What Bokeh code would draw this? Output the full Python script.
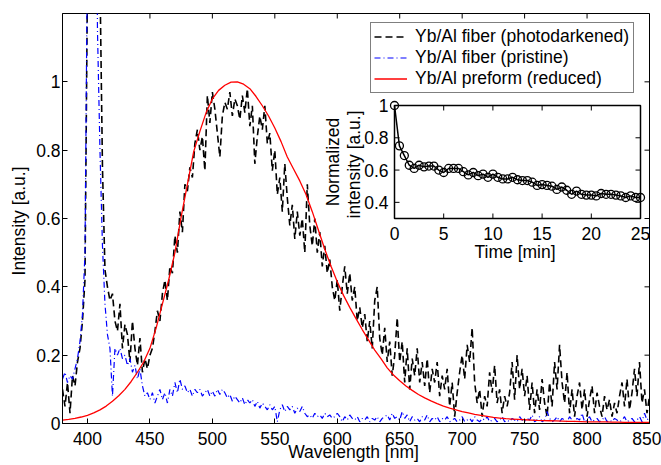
import numpy as np
from bokeh.plotting import figure
from bokeh.models import Range1d, FixedTicker, Legend, LegendItem
from bokeh.embed import file_html
from bokeh.resources import INLINE
from bokeh.core.properties import value

# ---------------- data ----------------
wavelength = np.arange(380, 851, 2)          # nm, 2 nm sampling
photodarkened = [
    0.10, 0.05, 0.12, 0.03, 0.14, 0.11, 0.18, 0.22, 0.30, 0.42,   # 380
    1.30, 2.50, 3.00, 2.80, 2.00, 1.30, 0.75, 0.45, 0.40, 0.36,   # 400
    0.38, 0.30, 0.27, 0.35, 0.22, 0.29, 0.26, 0.18, 0.30, 0.22,   # 420
    0.17, 0.25, 0.15, 0.19, 0.16, 0.20, 0.22, 0.27, 0.33, 0.30,   # 440
    0.38, 0.42, 0.36, 0.46, 0.44, 0.55, 0.50, 0.62, 0.56, 0.70,   # 460
    0.68, 0.75, 0.72, 0.82, 0.86, 0.80, 0.84, 0.74, 0.96, 0.88,   # 480
    0.97, 0.92, 0.85, 0.78, 0.90, 0.94, 0.92, 0.97, 0.90, 0.95,   # 500
    0.93, 0.89, 0.96, 0.91, 0.98, 0.87, 0.93, 0.76, 0.84, 0.90,   # 520
    0.86, 0.93, 0.82, 0.85, 0.74, 0.80, 0.67, 0.72, 0.62, 0.76,   # 540
    0.66, 0.58, 0.64, 0.54, 0.62, 0.55, 0.60, 0.50, 0.70, 0.58,   # 560
    0.52, 0.60, 0.50, 0.56, 0.46, 0.52, 0.44, 0.48, 0.40, 0.36,   # 580
    0.42, 0.33, 0.40, 0.46, 0.38, 0.44, 0.36, 0.40, 0.30, 0.34,   # 600
    0.28, 0.32, 0.24, 0.30, 0.22, 0.36, 0.40, 0.25, 0.20, 0.28,   # 620
    0.18, 0.24, 0.14, 0.20, 0.31, 0.18, 0.24, 0.12, 0.22, 0.10,   # 640
    0.19, 0.14, 0.22, 0.12, 0.18, 0.11, 0.19, 0.09, 0.16, 0.12,   # 660
    0.18, 0.08, 0.14, 0.10, 0.16, 0.05, 0.12, 0.02, 0.09, 0.15,   # 680
    0.20, 0.13, 0.23, 0.18, 0.28, 0.12, 0.06, 0.10, 0.02, 0.08,   # 700
    0.05, 0.15, 0.09, 0.17, 0.06, 0.10, 0.03, 0.08, 0.05, 0.09,   # 720
    0.18, 0.07, 0.20, 0.10, 0.16, 0.08, 0.14, 0.04, 0.12, 0.03,   # 740
    0.10, 0.04, 0.13, 0.06, 0.02, 0.12, 0.05, 0.18, 0.10, 0.23,   # 760
    0.12, 0.06, 0.15, 0.03, 0.10, 0.02, 0.08, 0.12, 0.04, 0.10,   # 780
    0.02, 0.07, 0.11, 0.03, 0.09, 0.05, 0.02, 0.08, 0.04, 0.07,   # 800
    0.02, 0.06, 0.03, 0.08, 0.12, 0.05, 0.13, 0.04, 0.09, 0.16,   # 820
    0.08, 0.18, 0.06, 0.10, 0.03, 0.08,                           # 840
]
pristine = [
    0.13, 0.15, 0.12, 0.14, 0.13, 0.16, 0.19, 0.24, 0.32, 0.50,   # 380
    1.40, 3.00, 3.50, 2.20, 1.15, 0.80, 0.52, 0.35, 0.26, 0.22,   # 400
    0.08, 0.22, 0.20, 0.22, 0.19, 0.20, 0.17, 0.19, 0.15, 0.17,   # 420
    0.13, 0.16, 0.11, 0.08, 0.09, 0.07, 0.09, 0.06, 0.08, 0.10,   # 440
    0.07, 0.09, 0.06, 0.10, 0.08, 0.12, 0.09, 0.13, 0.10, 0.11,   # 460
    0.09, 0.10, 0.08, 0.10, 0.09, 0.10, 0.08, 0.09, 0.10, 0.08,   # 480
    0.095, 0.08, 0.10, 0.085, 0.10, 0.09, 0.075, 0.085, 0.065, 0.08,  # 500
    0.07, 0.06, 0.075, 0.055, 0.07, 0.06, 0.07, 0.05, 0.065, 0.045,   # 520
    0.06, 0.05, 0.04, 0.055, 0.04, 0.05, 0.005, 0.04, 0.055, 0.035,   # 540
    0.05, 0.04, 0.05, 0.03, 0.045, 0.035, 0.05, 0.03, 0.02, 0.025,    # 560
    0.015, 0.03, 0.02, 0.025, 0.015, 0.03, 0.02, 0.025, 0.015, 0.02,  # 580
    0.03, 0.02, 0.005, 0.02, 0.01, 0.025, 0.015, 0.01, 0.02, 0.005,   # 600
    0.015, 0.01, 0.02, 0.005, 0.015, 0.01, 0.02, 0.005, 0.015, 0.02,  # 620
    0.025, 0.01, 0.03, 0.015, 0.02, 0.01, 0.035, 0.015, 0.025, 0.005, # 640
    0.02, 0.01, 0.015, 0.005, 0.02, 0.01, 0.025, 0.005, 0.015, 0.01,  # 660
    0.02, 0.005, 0.015, 0.01, 0.02, 0.005, 0.01, 0.015, 0.005, 0.01,  # 680
    0.02, 0.005, 0.01, 0.015, 0.005, 0.02, 0.01, 0.005, 0.015, 0.01,  # 700
    0.02, 0.005, 0.01, 0.015, 0.005, 0.01, 0.02, 0.005, 0.01, 0.005,  # 720
    0.015, 0.01, 0.005, 0.02, 0.01, 0.005, 0.015, 0.01, 0.025, 0.005, # 740
    0.01, 0.02, 0.005, 0.01, 0.035, 0.015, 0.005, 0.01, 0.02, 0.005,  # 760
    0.015, 0.01, 0.005, 0.02, 0.01, 0.005, 0.015, 0.01, 0.03, 0.005,  # 780
    0.01, 0.02, 0.005, 0.01, 0.015, 0.005, 0.01, 0.02, 0.005, 0.01,   # 800
    0.005, 0.015, 0.01, 0.005, 0.01, 0.02, 0.005, 0.01, 0.015, 0.005, # 820
    0.01, 0.02, 0.005, 0.03, 0.01, 0.02,                              # 840
]
wavelength_preform = np.arange(380, 851, 5)   # nm, 5 nm sampling
preform = [
    0.010, 0.012, 0.015, 0.019, 0.024, 0.031, 0.040, 0.051, 0.065, 0.081,   # 380
    0.100, 0.123, 0.150, 0.180, 0.220, 0.280, 0.350, 0.420, 0.500, 0.605,   # 430
    0.700, 0.795, 0.855, 0.910, 0.950, 0.975, 0.990, 0.999, 1.000, 0.993,   # 480
    0.980, 0.957, 0.930, 0.900, 0.865, 0.825, 0.780, 0.745, 0.710, 0.670,   # 530
    0.620, 0.565, 0.510, 0.460, 0.415, 0.375, 0.340, 0.307, 0.275, 0.245,   # 580
    0.215, 0.190, 0.163, 0.142, 0.125, 0.110, 0.097, 0.085, 0.075, 0.066,   # 630
    0.058, 0.051, 0.045, 0.040, 0.035, 0.031, 0.027, 0.024, 0.021, 0.018,   # 680
    0.016, 0.014, 0.013, 0.012, 0.011, 0.010, 0.009, 0.0085, 0.008, 0.0075, # 730
    0.007, 0.0065, 0.006, 0.0055, 0.005, 0.005, 0.0045, 0.0045, 0.004, 0.004,  # 780
    0.0035, 0.0035, 0.003, 0.003, 0.003,                                    # 830
]
time_min = np.arange(0, 25.01, 0.5)
norm_intensity = [
    1.00, 0.75, 0.69, 0.63, 0.61, 0.63, 0.62, 0.625, 0.625, 0.60,
    0.585, 0.61, 0.61, 0.61, 0.59, 0.57, 0.585, 0.565, 0.575, 0.555,
    0.575, 0.555, 0.545, 0.545, 0.555, 0.54, 0.535, 0.535, 0.525, 0.505,
    0.51, 0.505, 0.50, 0.48, 0.495, 0.475, 0.45, 0.47, 0.45, 0.445,
    0.445, 0.44, 0.455, 0.45, 0.45, 0.445, 0.44, 0.43, 0.44, 0.43,
    0.43,
]
series_labels = ["Yb/Al fiber (photodarkened)", "Yb/Al fiber (pristine)", "Yb/Al preform (reduced)"]

x_lim = [380, 850]
y_lim = [0, 1.2]
x_ticks = [400, 450, 500, 550, 600, 650, 700, 750, 800, 850]
y_ticks = [0, 0.2, 0.4, 0.6, 0.8, 1.0]
y_tick_labels = ["0", "0.2", "0.4", "0.6", "0.8", "1"]

inset_xlim = [0, 25]
inset_ylim = [0.3, 1.0]
inset_x_ticks = [0, 5, 10, 15, 20, 25]
inset_x_labels = ["0", "5", "10", "15", "20", "25"]
inset_y_ticks = [0.4, 0.6, 0.8, 1.0]
inset_y_labels = ["0.4", "0.6", "0.8", "1"]

# ---------------- layout geometry (pixels) ----------------
W, H = 661, 465
BL, BR, BT, BB = 62, 12, 13, 42
FW, FH = W - BL - BR, H - BT - BB
# inset box inside frame (px from frame left / top)
IL, IR, IT, IB = 332, 578, 92, 205

FONT = "Liberation Sans"
FS = "17.5px"

sx = (IR - IL) / (inset_xlim[1] - inset_xlim[0])
sy = (IB - IT) / (inset_ylim[1] - inset_ylim[0])
ix_start = inset_xlim[0] - IL / sx
ix_end = ix_start + FW / sx
iy_start = inset_ylim[0] - (FH - IB) / sy
iy_end = inset_ylim[1] + IT / sy

p = figure(width=W, height=H, x_range=Range1d(*x_lim), y_range=Range1d(*y_lim),
           output_backend="svg", toolbar_location=None,
           min_border_left=BL, min_border_right=BR, min_border_top=BT, min_border_bottom=BB)
p.extra_x_ranges = {"ix": Range1d(ix_start, ix_end)}
p.extra_y_ranges = {"iy": Range1d(iy_start, iy_end)}
p.background_fill_color = "white"
p.border_fill_color = "white"
p.outline_line_color = "black"
p.outline_line_width = 1
p.xgrid.visible = False
p.ygrid.visible = False

for ax in (p.xaxis[0], p.yaxis[0]):
    ax.major_tick_in = 5
    ax.major_tick_out = 0
    ax.minor_tick_line_color = None
    ax.major_tick_line_color = "black"
    ax.axis_line_color = "black"
    ax.major_label_text_font = FONT
    ax.major_label_text_font_size = FS
    ax.major_label_text_color = "black"
    ax.axis_label_text_font = FONT
    ax.axis_label_text_font_size = FS
    ax.axis_label_text_font_style = "normal"
    ax.axis_label_text_color = "black"

p.xaxis.ticker = FixedTicker(ticks=x_ticks)
p.yaxis.ticker = FixedTicker(ticks=y_ticks)
p.yaxis.major_label_overrides = {t: l for t, l in zip(y_ticks, y_tick_labels)}
p.xaxis.axis_label = "Wavelength  [nm]"
p.yaxis.axis_label = "Intensity  [a.u.]"
p.xaxis.major_label_standoff = 8
p.xaxis.axis_label_standoff = -6
p.yaxis.major_label_standoff = 2
p.yaxis.axis_label_standoff = 4

# top / right inward ticks
p.ray(x=x_ticks, y=[y_lim[1]] * len(x_ticks), length=5, length_units="screen",
      angle=-np.pi / 2, line_color="black", line_width=1)
p.ray(x=[x_lim[1]] * len(y_ticks), y=y_ticks, length=5, length_units="screen",
      angle=np.pi, line_color="black", line_width=1)

# main spectra
r1 = p.line(wavelength, photodarkened, line_color="black", line_width=1.6, line_dash="7 4")
r2 = p.line(wavelength, pristine, line_color="blue", line_width=1.2, line_dash="6 3 1 3")
r3 = p.line(wavelength_preform, preform, line_color="red", line_width=1.3)

# inset
kw = dict(x_range_name="ix", y_range_name="iy")
p.quad(left=[inset_xlim[0]], right=[inset_xlim[1]], bottom=[inset_ylim[0]], top=[inset_ylim[1]],
       fill_color="white", line_color="black", line_width=1.5, **kw)
nx, ny = len(inset_x_ticks), len(inset_y_ticks)
p.ray(x=inset_x_ticks, y=[inset_ylim[0]] * nx, length=5, length_units="screen", angle=np.pi / 2, line_color="black", **kw)
p.ray(x=inset_x_ticks, y=[inset_ylim[1]] * nx, length=5, length_units="screen", angle=-np.pi / 2, line_color="black", **kw)
p.ray(x=[inset_xlim[0]] * ny, y=inset_y_ticks, length=5, length_units="screen", angle=0, line_color="black", **kw)
p.ray(x=[inset_xlim[1]] * ny, y=inset_y_ticks, length=5, length_units="screen", angle=np.pi, line_color="black", **kw)
p.line(time_min, norm_intensity, line_color="black", line_width=1.5, **kw)
p.scatter(time_min, norm_intensity, marker="circle", size=8, fill_color=None,
          line_color="black", line_width=1.3, **kw)

tkw = dict(text_font=value(FONT), text_font_size=value(FS), text_color="black")
p.text(x=inset_x_ticks, y=[inset_ylim[0]] * nx, text=inset_x_labels, text_align="center",
       text_baseline="middle", y_offset=15, **tkw, **kw)
p.text(x=[inset_xlim[0]] * ny, y=inset_y_ticks, text=inset_y_labels, text_align="right",
       text_baseline="middle", x_offset=-6, **tkw, **kw)
p.text(x=[sum(inset_xlim) / 2], y=[inset_ylim[0]], text=["Time  [min]"], text_align="center",
       text_baseline="middle", y_offset=33, **tkw, **kw)
p.text(x=[inset_xlim[0]], y=[sum(inset_ylim) / 2], text=["Normalized"], angle=np.pi / 2,
       text_align="center", text_baseline="middle", x_offset=-62, **tkw, **kw)
p.text(x=[inset_xlim[0]], y=[sum(inset_ylim) / 2], text=["intensity  [a.u.]"], angle=np.pi / 2,
       text_align="center", text_baseline="middle", x_offset=-41, **tkw, **kw)

legend = Legend(items=[LegendItem(label=series_labels[0], renderers=[r1]),
                       LegendItem(label=series_labels[1], renderers=[r2]),
                       LegendItem(label=series_labels[2], renderers=[r3])],
                location=(308, FH + BT - 93), margin=0, padding=3, spacing=0,
                glyph_width=33, glyph_height=21, label_height=21, label_standoff=8,
                label_width=215,
                label_text_font=FONT, label_text_font_size=FS, label_text_color="black",
                border_line_color="black", border_line_width=1,
                background_fill_color="white", background_fill_alpha=1)
p.add_layout(legend)

open("out.html", "w").write(file_html(p, INLINE))
